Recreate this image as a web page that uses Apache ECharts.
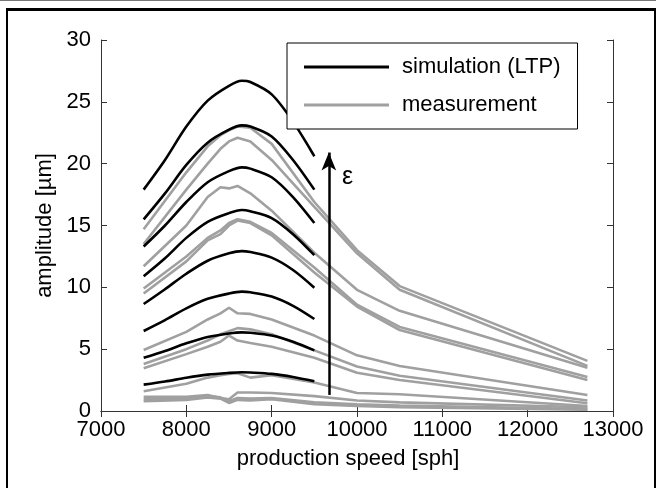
<!DOCTYPE html>
<html>
<head>
<meta charset="utf-8">
<script src="https://cdn.jsdelivr.net/npm/echarts@6/dist/echarts.min.js"></script>
<style>
html, body { margin: 0; padding: 0; background: #ffffff; }
#chart { width: 656px; height: 488px; }
</style>
</head>
<body>
<div id="chart"></div>
<script>
// simulation (LTP) speeds and amplitudes, lowest curve first
var simSpeed = [7500, 7750, 8000, 8250, 8500, 8650, 8750, 9000, 9250, 9500];
var sim1 = [2.13, 2.38, 2.69, 2.94, 3.08, 3.13, 3.11, 3.0, 2.75, 2.4];
var sim2 = [4.3, 4.85, 5.47, 5.98, 6.27, 6.36, 6.33, 6.1, 5.6, 4.9];
var sim3 = [6.47, 7.35, 8.3, 9.07, 9.5, 9.65, 9.6, 9.25, 8.5, 7.44];
var sim4 = [8.65, 9.85, 11.1, 12.15, 12.75, 12.93, 12.85, 12.4, 11.4, 9.97];
var sim5 = [10.9, 12.35, 14.0, 15.3, 16.0, 16.25, 16.15, 15.6, 14.3, 12.6];
var sim6 = [13.3, 15.0, 16.9, 18.5, 19.4, 19.7, 19.6, 18.9, 17.3, 15.2];
var sim7 = [15.5, 17.6, 19.9, 21.7, 22.75, 23.1, 23.0, 22.2, 20.3, 17.9];
var sim8 = [17.9, 20.3, 23.0, 25.1, 26.3, 26.7, 26.6, 25.6, 23.4, 20.6];

// measurement speeds and amplitudes
var measSpeed = [7500, 8000, 8250, 8400, 8500, 8600, 8750, 9000, 9500, 10000, 10500, 12700];
var meas1 = [0.8, 0.9, 1.1, 1.0, 0.65, 0.9, 0.85, 0.95, 0.55, 0.4, 0.3, 0.1];
var meas2 = [0.95, 1.0, 1.2, 1.1, 0.8, 1.05, 1.0, 1.05, 0.7, 0.55, 0.45, 0.15];
var meas3 = [1.15, 1.15, 1.3, 1.05, 0.95, 1.5, 1.5, 1.45, 1.2, 0.85, 0.7, 0.3];
var meas4 = [1.6, 2.2, 2.7, 2.9, 3.0, 3.05, 2.7, 2.9, 2.3, 1.45, 1.35, 0.4];
var meas5 = [3.45, 4.6, 5.2, 5.6, 6.1, 5.7, 5.5, 5.2, 4.3, 3.1, 2.5, 0.62];
var meas6 = [3.8, 5.0, 5.7, 6.2, 6.45, 6.7, 6.6, 6.2, 4.9, 3.6, 2.85, 0.85];
var meas7 = [4.93, 6.4, 7.4, 7.9, 8.35, 7.9, 7.85, 7.4, 6.1, 4.5, 3.64, 1.3];
var meas8 = [9.5, 12.1, 13.8, 14.3, 15.0, 15.4, 15.2, 14.2, 11.2, 8.45, 6.55, 2.5];
var meas9 = [9.9, 12.5, 14.0, 14.6, 15.2, 15.5, 15.3, 14.4, 11.6, 8.6, 6.8, 2.75];
var meas10 = [11.7, 15.0, 17.3, 18.1, 18.0, 18.2, 17.6, 16.2, 12.8, 9.8, 8.1, 3.5];
var meas11 = [13.5, 17.9, 20.0, 21.2, 21.8, 22.1, 21.8, 20.3, 16.5, 12.75, 9.8, 3.65];
var meas12 = [14.7, 19.3, 21.4, 22.3, 22.7, 23.0, 22.9, 21.6, 16.9, 13.0, 10.1, 4.05];

// epsilon arrow: [speed, amplitude] at foot and tip
var arrowFoot = [9670, 1.3];
var arrowTip = [9670, 20.9];
var epsLabelAt = [9890, 18.9];

var simCurves = [sim1, sim2, sim3, sim4, sim5, sim6, sim7, sim8];
var measCurves = [meas1, meas2, meas3, meas4, meas5, meas6, meas7, meas8, meas9, meas10, meas11, meas12];

var SIM_NAME = 'simulation (LTP)';
var MEAS_NAME = 'measurement';
var FONT = 'Liberation Sans, Arial, sans-serif';

function pairUp(xs, ys) {
    var out = [];
    for (var i = 0; i < xs.length; i++) {
        out.push([xs[i], ys[i]]);
    }
    return out;
}

function lineSeries(name, xs, ys, color, smooth) {
    return {
        name: name,
        type: 'line',
        data: pairUp(xs, ys),
        symbol: 'none',
        smooth: smooth,
        silent: true,
        lineStyle: { color: color, width: 2.6 },
        itemStyle: { color: color },
        z: color === '#000000' ? 3 : 2
    };
}

var series = [];
measCurves.forEach(function (c) {
    series.push(lineSeries(MEAS_NAME, measSpeed, c, '#a0a0a0', false));
});
simCurves.forEach(function (c) {
    series.push(lineSeries(SIM_NAME, simSpeed, c, '#000000', 0.3));
});

// arrow and epsilon annotation
series.push({
    name: 'eps',
    type: 'line',
    data: [],
    markLine: {
        silent: true,
        symbol: ['none', 'arrow'],
        symbolSize: [11, 18],
        lineStyle: { color: '#000000', width: 2.5, type: 'solid' },
        label: { show: false },
        data: [[{ coord: arrowFoot }, { coord: arrowTip }]]
    },
    markPoint: {
        silent: true,
        symbol: 'circle',
        symbolSize: 0,
        label: {
            show: true,
            formatter: 'ε',
            color: '#000000',
            fontFamily: FONT,
            fontSize: 25
        },
        data: [{ coord: epsLabelAt }]
    }
});

var axisLineStyle = { color: '#333333', width: 1 };

function plainNumber(v) {
    return String(v);
}

var option = {
    animation: false,
    backgroundColor: '#ffffff',
    textStyle: { fontFamily: FONT },
    grid: { left: 101, right: 43, top: 40, bottom: 77 },
    legend: {
        data: [
            { name: SIM_NAME, icon: 'rect', itemStyle: { color: '#000000' } },
            { name: MEAS_NAME, icon: 'rect', itemStyle: { color: '#a0a0a0' } }
        ],
        orient: 'vertical',
        left: 287,
        top: 43,
        itemWidth: 85,
        itemHeight: 3,
        itemGap: 14,
        padding: [12, 17, 12, 17],
        backgroundColor: '#ffffff',
        borderColor: '#000000',
        borderWidth: 1,
        selectedMode: false,
        textStyle: {
            fontFamily: FONT,
            fontSize: 22,
            color: '#000000',
            lineHeight: 24,
            padding: [0, 0, 0, 8]
        }
    },
    xAxis: [
        {
            type: 'value',
            min: 7000,
            max: 13000,
            interval: 1000,
            name: 'production speed [sph]',
            nameLocation: 'middle',
            nameGap: 37,
            nameTextStyle: { fontSize: 22, color: '#000000', padding: [0, 18, 0, 0] },
            axisLine: { lineStyle: axisLineStyle },
            axisTick: { inside: true, length: 6, lineStyle: axisLineStyle },
            axisLabel: { fontSize: 22, color: '#000000', margin: 8, formatter: plainNumber },
            splitLine: { show: false }
        },
        {
            type: 'value',
            position: 'top',
            min: 7000,
            max: 13000,
            interval: 1000,
            axisLine: { lineStyle: axisLineStyle },
            axisTick: { inside: true, length: 6, lineStyle: axisLineStyle },
            axisLabel: { show: false },
            splitLine: { show: false }
        }
    ],
    yAxis: [
        {
            type: 'value',
            min: 0,
            max: 30,
            interval: 5,
            name: 'amplitude [µm]',
            nameLocation: 'middle',
            nameGap: 44,
            nameTextStyle: { fontSize: 22, color: '#000000' },
            axisLine: { show: true, lineStyle: axisLineStyle },
            axisTick: { show: true, inside: true, length: 6, lineStyle: axisLineStyle },
            axisLabel: { fontSize: 22, color: '#000000', margin: 10, formatter: plainNumber },
            splitLine: { show: false }
        },
        {
            type: 'value',
            position: 'right',
            min: 0,
            max: 30,
            interval: 5,
            axisLine: { show: true, lineStyle: axisLineStyle },
            axisTick: { show: true, inside: true, length: 6, lineStyle: axisLineStyle },
            axisLabel: { show: false },
            splitLine: { show: false }
        }
    ],
    graphic: [
        { type: 'rect', shape: { x: 0, y: 0, width: 656, height: 1 }, style: { fill: '#777777' }, silent: true },
        { type: 'rect', shape: { x: 6, y: 8, width: 650, height: 3 }, style: { fill: '#000000' }, silent: true },
        { type: 'rect', shape: { x: 6, y: 8, width: 2, height: 480 }, style: { fill: '#000000' }, silent: true },
        { type: 'rect', shape: { x: 654, y: 8, width: 2, height: 480 }, style: { fill: '#000000' }, silent: true }
    ],
    series: series
};

var chart = echarts.init(document.getElementById('chart'), null, { renderer: 'canvas' });
chart.setOption(option);
</script>
</body>
</html>
